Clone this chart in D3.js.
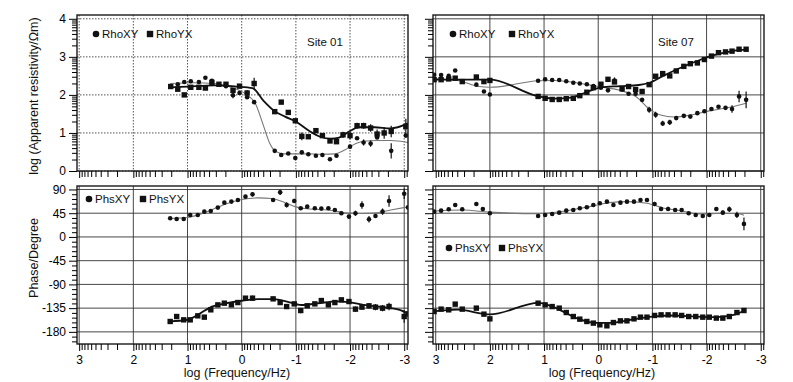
<!DOCTYPE html>
<html>
<head>
<meta charset="utf-8">
<script src="https://cdn.jsdelivr.net/npm/d3@7"></script>
<style>
body { margin: 0; background: #fff; }
svg { display: block; font-family: "Liberation Sans", Arial, sans-serif; }
</style>
</head>
<body>
<div id="main"></div>
<script>
// log frequency ticks and value ticks
const freqTicks = [3, 2, 1, 0, -1, -2, -3];
const rhoTicks = [0, 1, 2, 3, 4];
const phsTicks = [90, 45, 0, -45, -90, -135, -180];

// [log f, value, error half-width]
const s01RhoXY = [
  [1.18,2.28],[1.06,2.34],[0.94,2.36],[0.79,2.34],[0.67,2.45],[0.55,2.37],[0.42,2.28],[0.29,2.23],[0.16,1.99,0.08],[0.04,2.05],[-0.1,1.94],[-0.23,1.81],
  [-0.61,0.53],[-0.73,0.42],[-0.86,0.46],[-0.99,0.34,0.06],[-1.11,0.49],[-1.23,0.44],[-1.37,0.4],[-1.49,0.42],[-1.63,0.31],[-1.75,0.4],
  [-2.0,0.64],[-2.13,0.86],[-2.25,0.75,0.08],[-2.38,0.72,0.08],[-2.5,0.88],[-2.76,0.53,0.2],[-3.03,0.93]
];
const s01RhoYX = [
  [1.31,2.22],[1.18,2.15],[1.06,2.0],[0.94,2.2],[0.79,2.2],[0.67,2.18],[0.55,2.33],[0.42,2.28],[0.29,2.28],[0.16,2.12],[0.04,2.23],[-0.1,2.05,0.08],[-0.23,2.3,0.15],
  [-0.61,1.56],[-0.73,1.81],[-0.86,1.54],[-0.99,1.32],[-1.11,0.91,0.1],[-1.23,0.9],[-1.37,1.06],[-1.49,0.93],[-1.63,0.79],[-1.75,0.77],[-1.87,0.95,0.08],[-2.0,0.93,0.1],
  [-2.13,1.19,0.08],[-2.25,1.19,0.08],[-2.38,1.13,0.1],[-2.5,0.97,0.12],[-2.63,1.0,0.15],[-2.76,1.04,0.15],[-3.03,1.17,0.2]
];
const s07RhoXY = [
  [3.03,2.53],[2.9,2.52],[2.76,2.5],[2.64,2.64],[2.25,2.27],[2.11,2.09],[2.0,2.01],
  [1.11,2.37],[0.98,2.41],[0.85,2.39],[0.72,2.39],[0.59,2.36],[0.46,2.32],[0.34,2.3],[0.21,2.28],[0.09,2.23],[-0.05,2.19],[-0.18,2.12],[-0.3,2.38,0.08],
  [-0.44,2.14],[-0.56,2.03],[-0.69,2.03],[-0.81,1.87],[-0.94,1.61,0.08],[-1.06,1.48,0.08],[-1.19,1.25,0.07],[-1.32,1.28,0.07],[-1.44,1.39],[-1.58,1.45],
  [-1.7,1.43],[-1.83,1.52],[-1.96,1.57],[-2.09,1.63],[-2.22,1.69],[-2.35,1.66],[-2.47,1.63,0.1],[-2.6,1.96,0.15],[-2.73,1.87,0.22]
];
const s07RhoYX = [
  [3.03,2.4],[2.9,2.4],[2.76,2.42],[2.64,2.44],[2.51,2.35],[2.25,2.47],[2.11,2.35],[2.0,2.38],
  [1.11,1.96],[0.98,1.91],[0.85,1.88],[0.72,1.88],[0.59,1.9],[0.46,1.91],[0.34,1.98],[0.21,2.07],[0.09,2.19],[-0.05,2.28],[-0.18,2.41],[-0.3,2.34],
  [-0.44,2.16],[-0.56,2.22],[-0.69,2.14],[-0.81,2.09],[-0.94,2.27],[-1.06,2.49],[-1.19,2.56],[-1.32,2.5],[-1.44,2.63],[-1.58,2.75],[-1.7,2.82],
  [-1.83,2.84],[-1.96,2.93],[-2.09,3.02],[-2.22,3.11],[-2.35,3.13],[-2.47,3.15],[-2.6,3.2],[-2.73,3.2]
];
const s01PhsXY = [
  [1.32,35.4],[1.2,34.1],[1.07,34.1],[0.95,41.7],[0.81,41.7],[0.69,48],[0.57,49.3],[0.44,55.6],[0.32,65],[0.19,67],[0.07,70],[-0.07,76.4],[-0.2,80.8,4],
  [-0.58,70.1],[-0.71,84.6,5],[-0.83,60.6,5],[-0.97,68.2,4],[-1.09,54.3],[-1.21,57.4],[-1.35,54.3],[-1.47,53.7],[-1.6,54.3],[-1.72,51],[-1.84,44.9],
  [-1.98,38.6,4],[-2.1,44.9,5],[-2.22,60.6,7],[-2.35,33.5,6],[-2.47,39.8],[-2.6,48,6],[-2.72,68.2,11],[-3.0,82,10],[-3.07,56]
];
const s01PhsYX = [
  [1.32,-160.3],[1.2,-150.9],[1.07,-157.2],[0.95,-157.2],[0.81,-149.6],[0.69,-152.1,4],[0.57,-138.2],[0.44,-128.8],[0.32,-125.6],[0.19,-128.8],[0.07,-124.4],[-0.07,-116.1,4],[-0.2,-116.1,5],
  [-0.58,-117.4],[-0.71,-124.4],[-0.83,-132],[-0.97,-126.9],[-1.09,-139.5,5],[-1.21,-130.6],[-1.35,-126.9],[-1.47,-120.6],[-1.6,-128.8],[-1.72,-124.4],
  [-1.84,-119.3,4],[-1.98,-122.5,4],[-2.1,-136.9,5],[-2.22,-133.1,4],[-2.35,-130.6,5],[-2.47,-133.1,6],[-2.6,-135,6],[-2.72,-132,7],[-3.0,-150.9,12],[-3.07,-145.8]
];
const s07PhsXY = [
  [3.03,48],[2.9,49.9],[2.76,52.5],[2.64,60.6],[2.51,52.5],[2.25,62.5],[2.13,53.1],[2.0,44.9],
  [1.11,39.8],[0.98,41.7],[0.85,43.6],[0.72,46.1],[0.59,49.9],[0.46,51.2],[0.34,54.3],[0.21,56.3],[0.09,60.6],[-0.03,63.8],[-0.16,66.9],[-0.28,60.6,4],
  [-0.41,65],[-0.53,66.9],[-0.66,66.9],[-0.78,70.1],[-0.9,70.1],[-1.04,62.5,4],[-1.16,53.1,4],[-1.29,53.1,4],[-1.42,51.2],[-1.54,51.2],[-1.67,44.9],
  [-1.8,41.7],[-1.93,39.8],[-2.05,41.7],[-2.18,53.1],[-2.3,46.1,4],[-2.42,52.5,5],[-2.56,41.7,6],[-2.69,24.7,12]
];
const s07PhsYX = [
  [3.03,-141.4],[2.9,-136.9],[2.76,-138.2],[2.64,-127.4],[2.51,-136.9],[2.25,-135],[2.11,-146.4],[2.0,-155.3],
  [1.11,-125.6],[0.98,-128.8],[0.85,-132],[0.72,-135],[0.59,-143.3],[0.46,-150.9],[0.34,-155.9],[0.21,-160.3],[0.09,-163.4],[-0.03,-166.6],[-0.16,-168.5],
  [-0.28,-162.3,3],[-0.41,-159.1],[-0.53,-159.1],[-0.66,-155.3],[-0.78,-152.1],[-0.9,-152.1],[-1.04,-148.9],[-1.16,-147.7],[-1.29,-147.7],[-1.42,-147.7],
  [-1.54,-148.9],[-1.67,-150.9],[-1.8,-150.9],[-1.93,-152.1],[-2.05,-152.1],[-2.18,-153.9],[-2.3,-153.9],[-2.42,-150.9],[-2.56,-143.3],[-2.69,-139.5]
];

// model response curves
const s01RhoXYFit = [[1.32,2.3],[0.9,2.32],[0.5,2.3],[0.2,2.2],[-0.1,2.0],[-0.25,1.78],[-0.4,1.2],[-0.52,0.72],[-0.62,0.52],[-0.8,0.45],[-1.2,0.45],[-1.5,0.44],[-1.72,0.45],[-1.9,0.55],[-2.05,0.68],[-2.25,0.78],[-2.5,0.8],[-2.75,0.8],[-3.07,0.75]];
const s01RhoYXFit = [[1.32,2.2],[1.0,2.22],[0.5,2.25],[0.1,2.22],[-0.2,2.18],[-0.4,1.85],[-0.6,1.58],[-0.8,1.43],[-1.0,1.3],[-1.25,1.05],[-1.45,0.9],[-1.65,0.85],[-1.8,0.88],[-2.0,1.05],[-2.15,1.15],[-2.45,1.15],[-2.75,1.12],[-3.07,1.25]];
const s07RhoXYFit = [[3.05,2.42],[2.6,2.38],[2.2,2.22],[2.0,2.2],[1.1,2.37],[0.8,2.38],[0.4,2.32],[0.0,2.22],[-0.4,2.12],[-0.7,1.95],[-0.95,1.62],[-1.15,1.47],[-1.4,1.42],[-1.7,1.47],[-2.05,1.58],[-2.45,1.68],[-2.73,1.78]];
const s07RhoYXFit = [[3.05,2.4],[2.0,2.4],[1.1,1.96],[0.8,1.9],[0.5,1.93],[0.2,2.08],[-0.05,2.2],[-0.4,2.23],[-0.75,2.26],[-0.95,2.32],[-1.2,2.5],[-1.5,2.7],[-1.9,2.93],[-2.2,3.07],[-2.5,3.16],[-2.73,3.19]];
const s01PhsXYFit = [[1.32,35],[1.0,37],[0.8,42],[0.5,54],[0.25,64],[0.0,71],[-0.3,74],[-0.55,73],[-0.8,65],[-1.0,57],[-1.25,53],[-1.6,51],[-1.9,46],[-2.2,44.5],[-2.5,46],[-2.75,51],[-3.07,57]];
const s01PhsYXFit = [[1.32,-160],[1.0,-157],[0.8,-147],[0.55,-132],[0.3,-126],[0.0,-121],[-0.3,-118],[-0.6,-118],[-0.85,-123],[-1.1,-129],[-1.4,-126],[-1.75,-122],[-2.0,-124],[-2.25,-129],[-2.6,-133],[-2.9,-138],[-3.07,-145]];
const s07PhsXYFit = [[3.05,49],[2.5,51],[2.0,47],[1.1,44],[0.7,48],[0.3,55],[0.0,61],[-0.2,65],[-0.55,67],[-0.9,64],[-1.2,55],[-1.5,50],[-1.9,43.5],[-2.3,45],[-2.6,44],[-2.69,41]];
const s07PhsYXFit = [[3.05,-141],[2.6,-138],[2.0,-147],[1.1,-125],[0.8,-134],[0.4,-154],[0.05,-163],[-0.2,-163],[-0.6,-157],[-1.0,-151],[-1.4,-149],[-1.8,-151],[-2.2,-152],[-2.5,-148],[-2.69,-140]];


const svg = d3.select("#main").append("svg")
  .attr("width", 793)
  .attr("height", 382);

svg.append("rect")
  .attr("width", 793)
  .attr("height", 382)
  .attr("fill", "#fff");

const xLeft = d3.scaleLinear().domain([3.04, -3.07]).range([77, 408]);
const xRight = d3.scaleLinear().domain([3.05, -3.06]).range([433, 764]);
const yRho = d3.scaleLinear().domain([0, 4.1]).range([171, 15]);
const yPhs = d3.scaleLinear().domain([-203, 96.6]).range([344, 186]);

const logMinor = (lo, hi) => {
  let t = [];
  for (let n = Math.floor(lo); n < hi; n++) {
    for (let k = 2; k < 10; k++) {
      let v = n + Math.log10(k);
      if (v > lo && v < hi) t.push(v);
    }
  }
  return t;
};

const panels = [
  { x: xLeft, y: yRho, majors: rhoTicks, minors: logMinor(0, 4.1), xy: s01RhoXY, yx: s01RhoYX, xyFit: s01RhoXYFit, yxFit: s01RhoYXFit,
    dotted: true, yLabels: true, xLabels: false, legend: ["RhoXY", "RhoYX"], leg: [96, 34, 150], site: ["Site 01", 307, 46] },
  { x: xRight, y: yRho, majors: rhoTicks, minors: logMinor(0, 4.1), xy: s07RhoXY, yx: s07RhoYX, xyFit: s07RhoXYFit, yxFit: s07RhoYXFit,
    dotted: false, yLabels: false, xLabels: false, legend: ["RhoXY", "RhoYX"], leg: [453, 34, 512], site: ["Site 07", 658, 46] },
  { x: xLeft, y: yPhs, majors: phsTicks, minors: d3.range(-198, 91, 9).filter(v => v % 45 !== 0), xy: s01PhsXY, yx: s01PhsYX, xyFit: s01PhsXYFit, yxFit: s01PhsYXFit,
    dotted: false, yLabels: true, xLabels: true, legend: ["PhsXY", "PhsYX"], leg: [89, 199, 143] },
  { x: xRight, y: yPhs, majors: phsTicks, minors: d3.range(-198, 91, 9).filter(v => v % 45 !== 0), xy: s07PhsXY, yx: s07PhsYX, xyFit: s07PhsXYFit, yxFit: s07PhsYXFit,
    dotted: false, yLabels: false, xLabels: true, legend: ["PhsXY", "PhsYX"], leg: [449, 248, 502] }
];

const xMinor = logMinor(-3.07, 3.05);

panels.forEach((p, i) => {
  let [x0, x1] = p.x.range();
  let [y1, y0] = p.y.range();
  let g = svg.append("g");

  g.append("clipPath")
    .attr("id", `clip${i}`)
    .append("rect")
    .attr("x", x0)
    .attr("y", y0)
    .attr("width", x1 - x0)
    .attr("height", y1 - y0);

  // grid
  let grid = g.append("g")
    .attr("stroke", p.dotted ? "#555" : "#333")
    .attr("stroke-width", p.dotted ? 1 : 0.9)
    .attr("stroke-dasharray", p.dotted ? "1.5,1.5" : null);

  grid.selectAll("line.v")
    .data(freqTicks)
    .enter()
    .append("line")
    .attr("x1", d => p.x(d))
    .attr("x2", d => p.x(d))
    .attr("y1", y0)
    .attr("y2", y1);

  grid.selectAll("line.h")
    .data(p.majors)
    .enter()
    .append("line")
    .attr("x1", x0)
    .attr("x2", x1)
    .attr("y1", d => p.y(d))
    .attr("y2", d => p.y(d));

  let plot = g.append("g").attr("clip-path", `url(#clip${i})`);

  let line = d3.line()
    .x(d => p.x(d[0]))
    .y(d => p.y(d[1]))
    .curve(d3.curveMonotoneX);

  plot.append("path")
    .attr("d", line(p.xyFit))
    .attr("fill", "none")
    .attr("stroke", "#777")
    .attr("stroke-width", 1.1);

  plot.append("path")
    .attr("d", line(p.yxFit))
    .attr("fill", "none")
    .attr("stroke", "#111")
    .attr("stroke-width", 1.8);

  // error bars
  plot.selectAll("line.err")
    .data(p.xy.concat(p.yx).filter(d => d[2]))
    .enter()
    .append("line")
    .attr("x1", d => p.x(d[0]))
    .attr("x2", d => p.x(d[0]))
    .attr("y1", d => p.y(d[1] - d[2]))
    .attr("y2", d => p.y(d[1] + d[2]))
    .attr("stroke", "#111")
    .attr("stroke-width", 1.2);

  plot.selectAll("circle")
    .data(p.xy)
    .enter()
    .append("circle")
    .attr("cx", d => p.x(d[0]))
    .attr("cy", d => p.y(d[1]))
    .attr("r", 2.3)
    .attr("fill", "#111");

  plot.selectAll("rect.sq")
    .data(p.yx)
    .enter()
    .append("rect")
    .attr("x", d => p.x(d[0]) - 2.7)
    .attr("y", d => p.y(d[1]) - 2.7)
    .attr("width", 5.4)
    .attr("height", 5.4)
    .attr("fill", "#111");

  // frame
  g.append("rect")
    .attr("x", x0)
    .attr("y", y0)
    .attr("width", x1 - x0)
    .attr("height", y1 - y0)
    .attr("fill", "none")
    .attr("stroke", "#1a1a1a")
    .attr("stroke-width", 1.4);

  // axes
  let fmt = d => String(d);
  g.append("g")
    .attr("transform", `translate(${x0},0)`)
    .call(d3.axisLeft(p.y).tickValues(p.majors).tickSize(8).tickPadding(3).tickFormat(p.yLabels ? fmt : ""))
    .call(a => a.select(".domain").remove())
    .attr("font-size", 12)
    .attr("font-family", null);

  g.append("g")
    .attr("transform", `translate(${x0},0)`)
    .call(d3.axisLeft(p.y).tickValues(p.minors).tickSize(5).tickFormat(""))
    .call(a => a.select(".domain").remove());

  g.append("g")
    .attr("transform", `translate(0,${y1})`)
    .call(d3.axisBottom(p.x).tickValues(freqTicks).tickSize(7).tickPadding(4).tickFormat(p.xLabels ? fmt : ""))
    .call(a => a.select(".domain").remove())
    .attr("font-size", 12)
    .attr("font-family", null);

  g.append("g")
    .attr("transform", `translate(0,${y1})`)
    .call(d3.axisBottom(p.x).tickValues(xMinor).tickSize(6).tickFormat(""))
    .call(a => a.select(".domain").remove());

  // legend
  let lg = g.append("g").attr("font-size", 11.5).attr("fill", "#111");
  lg.append("circle")
    .attr("cx", p.leg[0])
    .attr("cy", p.leg[1])
    .attr("r", 3.3);
  lg.append("text")
    .attr("x", p.leg[0] + 6)
    .attr("y", p.leg[1] + 4)
    .text(p.legend[0]);
  lg.append("rect")
    .attr("x", p.leg[2] - 3.2)
    .attr("y", p.leg[1] - 3.2)
    .attr("width", 6.4)
    .attr("height", 6.4);
  lg.append("text")
    .attr("x", p.leg[2] + 6)
    .attr("y", p.leg[1] + 4)
    .text(p.legend[1]);

  if (p.site) {
    g.append("text")
      .attr("x", p.site[1])
      .attr("y", p.site[2])
      .attr("font-size", 11.5)
      .attr("fill", "#111")
      .text(p.site[0]);
  }
});

// axis titles
svg.append("text")
  .attr("transform", "translate(38,96) rotate(-90)")
  .attr("text-anchor", "middle")
  .attr("font-size", 12.5)
  .attr("fill", "#111")
  .text("log (Apparent resistivity/Ωm)");

svg.append("text")
  .attr("transform", "translate(38,258) rotate(-90)")
  .attr("text-anchor", "middle")
  .attr("font-size", 12.5)
  .attr("fill", "#111")
  .text("Phase/Degree");

[[237, "log (Frequency/Hz)"], [602, "log (Frequency/Hz)"]].forEach(t => {
  svg.append("text")
    .attr("x", t[0])
    .attr("y", 377)
    .attr("text-anchor", "middle")
    .attr("font-size", 12.5)
    .attr("fill", "#111")
    .text(t[1]);
});
</script>
</body>
</html>
